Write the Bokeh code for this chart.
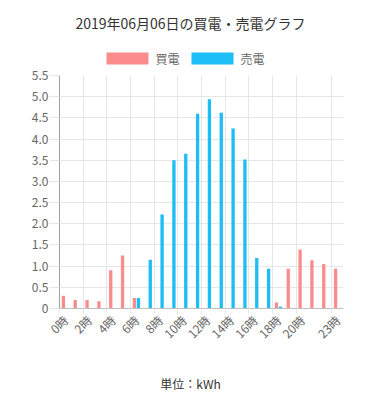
import math
from bokeh.plotting import figure
from bokeh.layouts import column
from bokeh.models import ColumnDataSource, Range1d, FixedTicker, CustomJSTickFormatter
from bokeh.core.properties import value
from bokeh.transform import dodge
from bokeh.embed import file_html
from bokeh.resources import INLINE

# ---- data ----
hours = list(range(24))
buy = [0.3, 0.2, 0.2, 0.17, 0.9, 1.25, 0.25, 0, 0, 0, 0, 0,
       0, 0, 0, 0, 0, 0, 0.14, 0.94, 1.39, 1.14, 1.05, 0.94]
sell = [0, 0, 0, 0, 0, 0, 0.25, 1.15, 2.22, 3.5, 3.65, 4.6,
        4.94, 4.62, 4.25, 3.52, 1.19, 0.94, 0.04, 0, 0, 0, 0, 0]
x_tick_hours = [0, 2, 4, 6, 8, 10, 12, 14, 16, 18, 20, 23]
y_ticks = [0, 0.5, 1.0, 1.5, 2.0, 2.5, 3.0, 3.5, 4.0, 4.5, 5.0, 5.5]
series_names = ["買電", "売電"]
title_text = "2019年06月06日の買電・売電グラフ"
unit_text = "単位：kWh"

RED = "#FA8C8E"
BLUE = "#1DBDF5"
GRID = "#e6e6e6"
FONT = "Noto Sans CJK JP"
W = 381
LEFT, RIGHT = 59, 38   # frame borders shared by all three parts
HEAD = 67


def blank_fig(height):
    # screen-like coordinates: x in page pixels (frame spans LEFT..W-RIGHT), y downwards
    f = figure(width=W, height=height, x_range=Range1d(LEFT, W - RIGHT),
               y_range=Range1d(height, 0),
               output_backend="svg", toolbar_location=None,
               min_border_left=LEFT, min_border_right=RIGHT,
               min_border_top=0, min_border_bottom=0)
    f.axis.visible = False
    f.grid.visible = False
    f.outline_line_color = None
    f.background_fill_color = "white"
    f.border_fill_color = "white"
    return f


# ---- header: title + legend ----
header = blank_fig(HEAD)
header.text(x=[190], y=[22], text=[title_text], text_align="center", text_baseline="middle",
            text_font=value(FONT), text_font_size="14px", text_color="#333333")
header.quad(left=[106, 191], right=[148, 233], top=[52, 52], bottom=[64, 64],
            fill_color=[RED, BLUE], line_color=None)
header.text(x=[155, 240], y=[58, 58], text=series_names, text_align="left",
            text_baseline="middle", text_font=value(FONT), text_font_size="12px",
            text_color="#666666")

# ---- main chart ----
source = ColumnDataSource(dict(hour=hours, buy=buy, sell=sell))

p = figure(width=W, height=350 - HEAD,
           x_range=Range1d(-0.5, 23.5), y_range=Range1d(0, 5.5),
           output_backend="svg", toolbar_location=None,
           min_border_left=LEFT, min_border_right=RIGHT,
           min_border_top=75 - HEAD, min_border_bottom=42)
p.outline_line_color = None
p.background_fill_color = "white"
p.border_fill_color = "white"

p.vbar(x=dodge("hour", -0.17), top="buy", bottom=0, width=0.28,
       source=source, fill_color=RED, line_color=None)
p.vbar(x=dodge("hour", 0.17), top="sell", bottom=0, width=0.28,
       source=source, fill_color=BLUE, line_color=None)

xax = p.xaxis[0]
xax.ticker = FixedTicker(ticks=x_tick_hours, minor_ticks=[h - 0.5 for h in x_tick_hours])
xax.formatter = CustomJSTickFormatter(code="return Math.round(tick) + '時';")
xax.major_tick_out = 0
xax.major_tick_in = 0
xax.minor_tick_out = 5
xax.minor_tick_in = 0
xax.minor_tick_line_color = GRID
xax.axis_line_color = "#bfbfbf"
xax.major_label_orientation = math.pi / 4
xax.major_label_standoff = 4
xax.major_label_text_font = FONT
xax.major_label_text_font_size = "12px"
xax.major_label_text_color = "#666666"
p.xgrid.grid_line_color = None
p.xgrid.minor_grid_line_color = GRID

yax = p.yaxis[0]
yax.ticker = FixedTicker(ticks=y_ticks)
yax.formatter = CustomJSTickFormatter(code="return tick == 0 ? '0' : tick.toFixed(1);")
yax.major_tick_out = 10
yax.major_tick_in = 0
yax.minor_tick_out = 0
yax.minor_tick_in = 0
yax.major_tick_line_color = GRID
yax.axis_line_color = "#a0a0a0"
yax.major_label_standoff = 1
yax.major_label_text_font = FONT
yax.major_label_text_font_size = "12px"
yax.major_label_text_color = "#666666"
p.ygrid.grid_line_color = GRID

# ---- footer: unit ----
footer = blank_fig(50)
footer.text(x=[190], y=[33], text=[unit_text], text_align="center", text_baseline="middle",
            text_font=value(FONT), text_font_size="12px", text_color="#333333")

layout = column(header, p, footer, spacing=0)
open("out.html", "w").write(file_html(layout, INLINE))
